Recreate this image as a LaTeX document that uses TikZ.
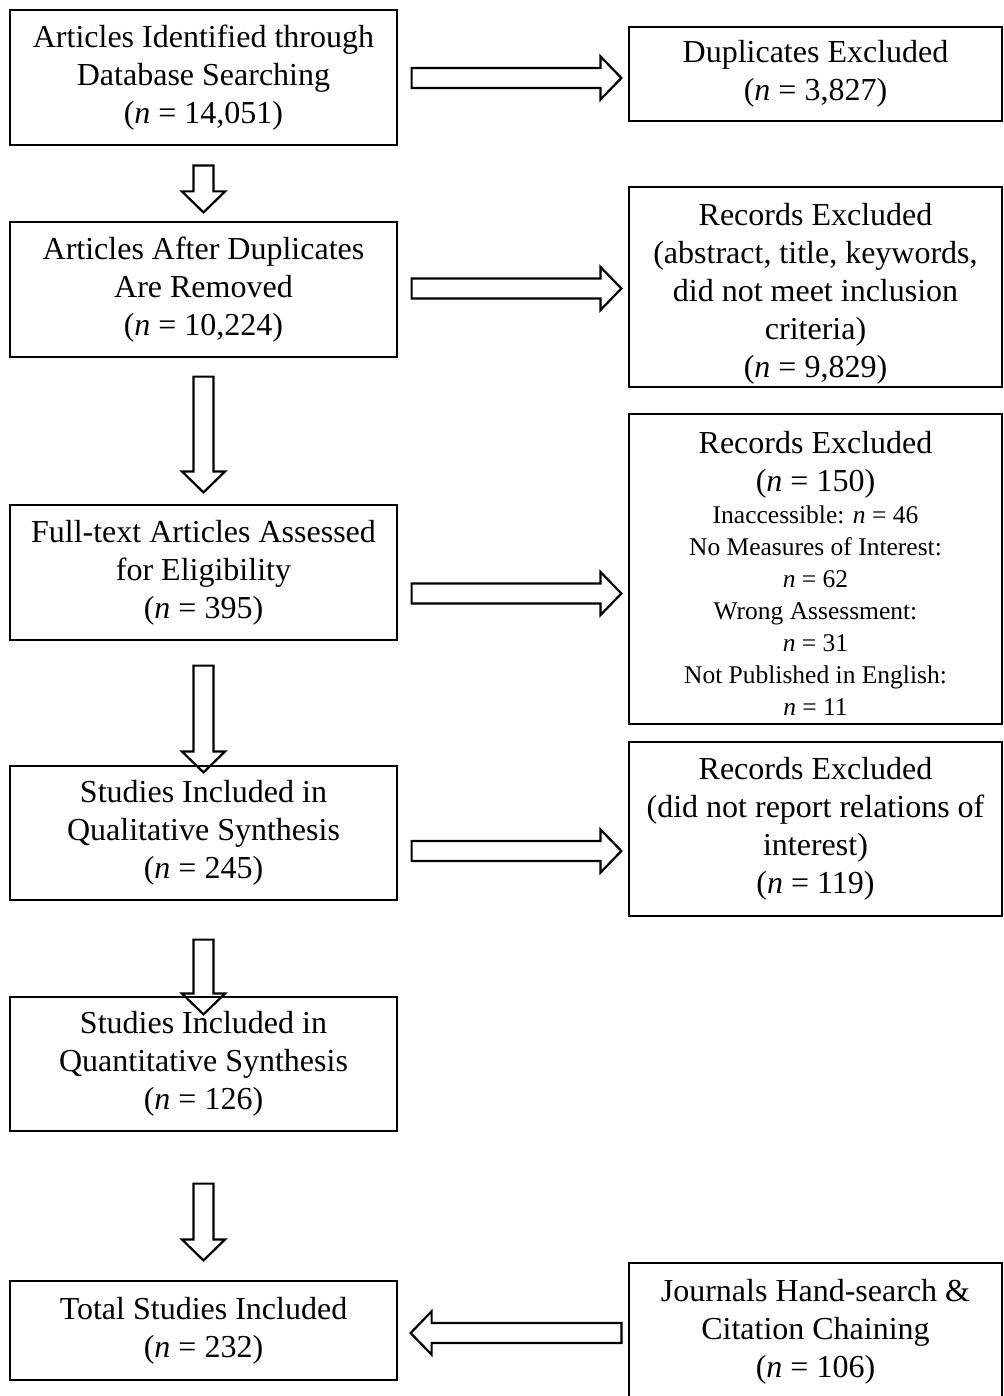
\documentclass[tikz,border=0pt]{standalone}
\usepackage{fontspec}
\setmainfont{Liberation Serif}
\usetikzlibrary{calc}
\newcommand{\txtgr}{\fontsize{16pt}{19pt}\selectfont}
\newcommand{\txtch}{\fontsize{12.75pt}{16pt}\selectfont}
\newcommand{\nval}{\textit{n}}
\newcommand{\shaftw}{5pt}
\newcommand{\headw}{10.8pt}
\newcommand{\headlen}{10.5pt}
% flecha hueca de #1 a #2
\newcommand{\fatarrow}[2]{%
  \path ($(#2)!\headlen!(#1)$) coordinate (hb);
  \draw[gruesa] ($(#1)!\shaftw!90:(#2)$) -- ($(hb)!\shaftw!90:(#2)$)
    -- ($(hb)!\headw!90:(#2)$) -- (#2)
    -- ($(hb)!\headw!-90:(#2)$) -- ($(hb)!\shaftw!-90:(#2)$)
    -- ($(#1)!\shaftw!-90:(#2)$) -- cycle;
}
\tikzset{
  caja/.style={draw, line width=0.6pt, minimum width=193.5pt, text width=185pt,
    align=flush center, inner sep=0pt, font=\txtgr},
  cajader/.style={caja, minimum width=186.5pt, text width=180pt},
  gruesa/.style={line width=1.1pt, line join=miter},
}
\begin{document}
\begin{tikzpicture}[x=0.5pt,y=-0.5pt]
\useasboundingbox (0,0) rectangle (1003,1396);
% Columna izquierda
\node[caja, minimum height=67.5pt] (b1) at (203.5,77.5) {Articles Identified through\\Database Searching\\(\nval{} = 14,051)};
\node[caja, minimum height=67.5pt] (b2) at (203.5,289.5) {Articles After Duplicates\\Are Removed\\(\nval{} = 10,224)};
\node[caja, minimum height=67.5pt] (b3) at (203.5,572.5) {Full-text Articles Assessed\\for Eligibility\\(\nval{} = 395)};
\node[caja, minimum height=67pt] (b4) at (203.5,833) {Studies Included in\\Qualitative Synthesis\\(\nval{} = 245)};
\node[caja, minimum height=67pt] (b5) at (203.5,1064) {Studies Included in\\Quantitative Synthesis\\(\nval{} = 126)};
\node[caja, minimum height=49.5pt] (b6) at (203.5,1330.5) {Total Studies Included\\(\nval{} = 232)};
% Columna derecha
\node[cajader, minimum height=47pt] (r1) at (815.5,74) {Duplicates Excluded\\(\nval{} = 3,827)};
\node[cajader, minimum height=100pt] (r2) at (815.5,287) {\rule{0pt}{18pt}Records Excluded\\(abstract, title, keywords,\\did not meet inclusion\\criteria)\\(\nval{} = 9,829)};
\node[cajader, minimum height=155pt] (r3) at (815.5,569) {\rule{0pt}{15pt}Records Excluded\\(\nval{} = 150)\par
  {\txtch Inaccessible: \nval{} = 46\\No Measures of Interest:\\\nval{} = 62\\Wrong Assessment:\\\nval{} = 31\\Not Published in English:\\\nval{} = 11\par}};
\node[cajader, minimum height=87pt] (r4) at (815.5,829) {Records Excluded\\(did not report relations of\\interest)\\(\nval{} = 119)};
\node[cajader, minimum height=68.5pt] (r5) at (815.5,1331.5) {Journals Hand-search \&\\Citation Chaining\\(\nval{} = 106)};
% Flechas verticales
\path ($(b1.south)+(0,20)$) coordinate (v1s) ($(b2.north)+(0,-9)$) coordinate (v1e);
\path ($(b2.south)+(0,19)$) coordinate (v2s) ($(b3.north)+(0,-12)$) coordinate (v2e);
\path ($(b3.south)+(0,25)$) coordinate (v3s) ($(b4.north)+(0,7)$) coordinate (v3e);
\path ($(b4.south)+(0,39)$) coordinate (v4s) ($(b5.north)+(0,18)$) coordinate (v4e);
\path ($(b5.south)+(0,52)$) coordinate (v5s) ($(b6.north)+(0,-20)$) coordinate (v5e);
\fatarrow{v1s}{v1e}
\fatarrow{v2s}{v2e}
\fatarrow{v3s}{v3e}
\fatarrow{v4s}{v4e}
\fatarrow{v5s}{v5e}
% Flechas horizontales
\path ($(b1.east)+(14,0.5)$) coordinate (h1s); \path (h1s -| r1.west) ++(-7,0) coordinate (h1e);
\path ($(b2.east)+(14,-1)$) coordinate (h2s); \path (h2s -| r2.west) ++(-7,0) coordinate (h2e);
\path ($(b3.east)+(14,21)$) coordinate (h3s); \path (h3s -| r3.west) ++(-7,0) coordinate (h3e);
\path ($(b4.east)+(14,18)$) coordinate (h4s); \path (h4s -| r4.west) ++(-7,0) coordinate (h4e);
\path ($(r5.west)+(-7,1.5)$) coordinate (h5s); \path (h5s -| b6.east) ++(13,0) coordinate (h5e);
\fatarrow{h1s}{h1e}
\fatarrow{h2s}{h2e}
\fatarrow{h3s}{h3e}
\fatarrow{h4s}{h4e}
\fatarrow{h5s}{h5e}
\end{tikzpicture}
\end{document}
